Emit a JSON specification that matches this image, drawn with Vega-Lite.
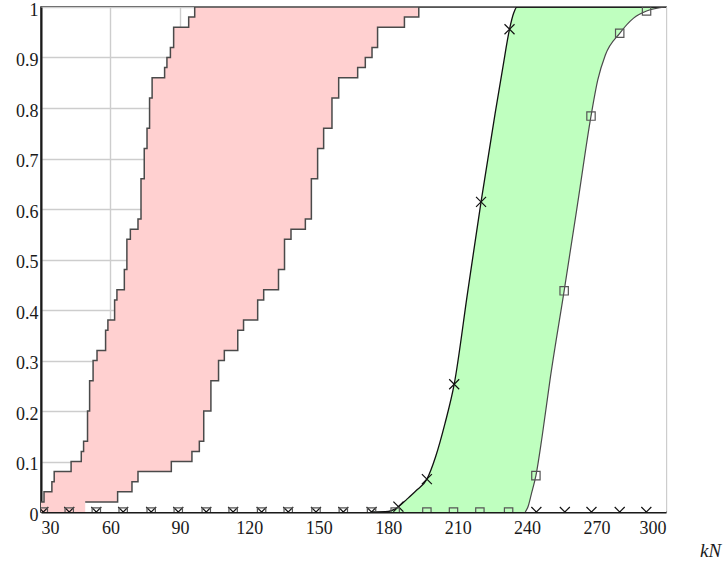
{
  "$schema": "https://vega.github.io/schema/vega-lite/v6.json",
  "width": 625,
  "height": 505,
  "autosize": "none",
  "padding": {"left": 41, "top": 7, "right": 57, "bottom": 49},
  "background": "white",
  "config": {
    "font": "Liberation Serif",
    "view": {"stroke": "#1a1a1a", "strokeWidth": 1.5},
    "axis": {
      "zindex": 1,
      "grid": true,
      "gridColor": "#cdcdcd",
      "gridWidth": 1.4,
      "ticks": false,
      "domainColor": "#1a1a1a",
      "domainWidth": 2,
      "labelFont": "Liberation Serif",
      "labelFontSize": 18,
      "labelColor": "#1a1a1a",
      "titleFont": "Liberation Serif"
    }
  },
  "datasets": {
    "ecdfL": [
      {"x": 30, "p": 0.02}, {"x": 31.3, "p": 0.04}, {"x": 34.7, "p": 0.06}, {"x": 35.7, "p": 0.08},
      {"x": 43, "p": 0.10}, {"x": 47.4, "p": 0.12}, {"x": 48.4, "p": 0.14}, {"x": 50.1, "p": 0.20},
      {"x": 51, "p": 0.26}, {"x": 52.5, "p": 0.30}, {"x": 54.2, "p": 0.32}, {"x": 57.9, "p": 0.36},
      {"x": 58.9, "p": 0.38}, {"x": 61.8, "p": 0.42}, {"x": 62.8, "p": 0.44}, {"x": 66, "p": 0.48},
      {"x": 67.1, "p": 0.54}, {"x": 68.6, "p": 0.56}, {"x": 71.9, "p": 0.58}, {"x": 73.2, "p": 0.66},
      {"x": 74.6, "p": 0.72}, {"x": 75.8, "p": 0.76}, {"x": 76.9, "p": 0.82}, {"x": 78, "p": 0.86},
      {"x": 83.4, "p": 0.88}, {"x": 84.4, "p": 0.90}, {"x": 85.9, "p": 0.92}, {"x": 87.3, "p": 0.96},
      {"x": 93.8, "p": 0.98}, {"x": 96.4, "p": 1.0}, {"x": 300, "p": 1.0}
    ],
    "ecdfR": [
      {"x": 49.1, "p": 0.02}, {"x": 63.1, "p": 0.04}, {"x": 69.3, "p": 0.06}, {"x": 71.9, "p": 0.08},
      {"x": 86.3, "p": 0.10}, {"x": 95.2, "p": 0.12}, {"x": 98.4, "p": 0.14}, {"x": 100.3, "p": 0.20},
      {"x": 103.4, "p": 0.26}, {"x": 106.7, "p": 0.30}, {"x": 109.2, "p": 0.32}, {"x": 115, "p": 0.36},
      {"x": 117.5, "p": 0.38}, {"x": 123.6, "p": 0.42}, {"x": 126.2, "p": 0.44}, {"x": 132.6, "p": 0.48},
      {"x": 135.2, "p": 0.54}, {"x": 138, "p": 0.56}, {"x": 144.2, "p": 0.58}, {"x": 146.8, "p": 0.66},
      {"x": 149.5, "p": 0.72}, {"x": 152.1, "p": 0.76}, {"x": 155.7, "p": 0.82}, {"x": 158.6, "p": 0.86},
      {"x": 166.8, "p": 0.88}, {"x": 170.1, "p": 0.90}, {"x": 173, "p": 0.92}, {"x": 175.4, "p": 0.96},
      {"x": 187, "p": 0.98}, {"x": 193.2, "p": 1.0}, {"x": 300, "p": 1.0}
    ],
    "curveL": [
      {"x": 172.8, "p": 0}, {"x": 180, "p": 0.001}, {"x": 184.4, "p": 0.0105}, {"x": 188, "p": 0.025},
      {"x": 192, "p": 0.042}, {"x": 196.7, "p": 0.065}, {"x": 200.5, "p": 0.11}, {"x": 204.5, "p": 0.175},
      {"x": 208.5, "p": 0.253}, {"x": 214.3, "p": 0.435}, {"x": 220.1, "p": 0.614}, {"x": 226.2, "p": 0.79},
      {"x": 229.5, "p": 0.88}, {"x": 232.4, "p": 0.956}, {"x": 234.2, "p": 0.988}, {"x": 235.6, "p": 1.0},
      {"x": 300, "p": 1.0}
    ],
    "curveR": [
      {"x": 239.2, "p": 0}, {"x": 240.5, "p": 0.012}, {"x": 241.8, "p": 0.035}, {"x": 243.8, "p": 0.072},
      {"x": 246.5, "p": 0.15}, {"x": 250, "p": 0.265}, {"x": 256, "p": 0.438}, {"x": 261.8, "p": 0.61},
      {"x": 267.6, "p": 0.784}, {"x": 270.5, "p": 0.855}, {"x": 273.8, "p": 0.905}, {"x": 280, "p": 0.948},
      {"x": 286, "p": 0.978}, {"x": 291.6, "p": 0.992}, {"x": 300, "p": 1.0}
    ],
    "xmarks": [
      {"x": 31, "p": 0}, {"x": 42.2, "p": 0}, {"x": 53.9, "p": 0}, {"x": 65.5, "p": 0},
      {"x": 77.6, "p": 0}, {"x": 89.3, "p": 0}, {"x": 101.4, "p": 0}, {"x": 113, "p": 0},
      {"x": 125.3, "p": 0}, {"x": 136.8, "p": 0}, {"x": 148.8, "p": 0}, {"x": 160.6, "p": 0},
      {"x": 172.8, "p": 0}, {"x": 184.4, "p": 0.0105}, {"x": 196.7, "p": 0.065}, {"x": 208.5, "p": 0.253},
      {"x": 220.1, "p": 0.614}, {"x": 232.4, "p": 0.956}, {"x": 244, "p": 0}, {"x": 256.3, "p": 0},
      {"x": 267.8, "p": 0}, {"x": 280, "p": 0}, {"x": 291.5, "p": 0}
    ],
    "sqmarks": [
      {"x": 31, "p": 0}, {"x": 42.2, "p": 0}, {"x": 53.9, "p": 0}, {"x": 65.5, "p": 0},
      {"x": 77.6, "p": 0}, {"x": 89.3, "p": 0}, {"x": 101.4, "p": 0}, {"x": 113, "p": 0},
      {"x": 125.3, "p": 0}, {"x": 136.8, "p": 0}, {"x": 148.8, "p": 0}, {"x": 160.6, "p": 0},
      {"x": 172.8, "p": 0}, {"x": 183, "p": 0}, {"x": 196.7, "p": 0}, {"x": 208.2, "p": 0},
      {"x": 219.6, "p": 0}, {"x": 232, "p": 0}, {"x": 243.8, "p": 0.072}, {"x": 256, "p": 0.438},
      {"x": 267.6, "p": 0.784}, {"x": 280, "p": 0.948}, {"x": 291.6, "p": 0.992}
    ]
  },
  "encoding": {
    "x": {
      "field": "x", "type": "quantitative",
      "scale": {"domain": [30, 300], "nice": false, "zero": false},
      "axis": {
        "values": [30, 60, 90, 120, 150, 180, 210, 240, 270, 300],
        "labelPadding": 7,
        "labelFont": "Liberation Serif",
        "title": "kN",
        "titleFontStyle": "italic",
        "titleFontWeight": "normal",
        "titleFontSize": 19,
        "titleColor": "#1a1a1a",
        "titleX": 669,
        "titleY": 44,
        "titleAlign": "center",
        "titleBaseline": "alphabetic"
      }
    },
    "y": {
      "field": "p", "type": "quantitative",
      "scale": {"domain": [0, 1], "nice": false},
      "stack": null,
      "axis": {
        "values": [0, 0.1, 0.2, 0.3, 0.4, 0.5, 0.6, 0.7, 0.8, 0.9, 1],
        "format": "~g",
        "labelFont": "Liberation Serif",
        "labelPadding": 3,
        "labelOffset": 3,
        "title": null
      }
    }
  },
  "layer": [
    {"data": {"name": "ecdfL"}, "mark": {"type": "area", "interpolate": "step-after", "color": "#ffd0d0", "clip": true}},
    {"data": {"name": "ecdfR"}, "mark": {"type": "area", "interpolate": "step-after", "color": "#ffffff", "clip": true}},
    {"data": {"name": "curveL"}, "mark": {"type": "area", "interpolate": "monotone", "color": "#bfffbf", "clip": true}},
    {"data": {"name": "curveR"}, "mark": {"type": "area", "interpolate": "monotone", "color": "#ffffff", "clip": true}},
    {"data": {"name": "ecdfL"}, "mark": {"type": "line", "interpolate": "step-after", "color": "#4a4a4a", "strokeWidth": 1.5, "clip": true}},
    {"data": {"name": "ecdfR"}, "mark": {"type": "line", "interpolate": "step-after", "color": "#4a4a4a", "strokeWidth": 1.5, "clip": true}},
    {"data": {"name": "curveL"}, "mark": {"type": "line", "interpolate": "monotone", "color": "#111111", "strokeWidth": 1.3, "clip": true}},
    {"data": {"name": "curveR"}, "mark": {"type": "line", "interpolate": "monotone", "color": "#4a4a4a", "strokeWidth": 1.2, "clip": true}},
    {"data": {"name": "xmarks"}, "mark": {"type": "point", "shape": "M-1,-1L1,1M1,-1L-1,1", "filled": false, "stroke": "#111111", "strokeWidth": 1.2, "size": 100, "opacity": 1, "clip": true}},
    {"data": {"name": "sqmarks"}, "mark": {"type": "point", "shape": "square", "filled": false, "stroke": "#555555", "strokeWidth": 1.2, "size": 70, "opacity": 1, "clip": true}}
  ]
}
